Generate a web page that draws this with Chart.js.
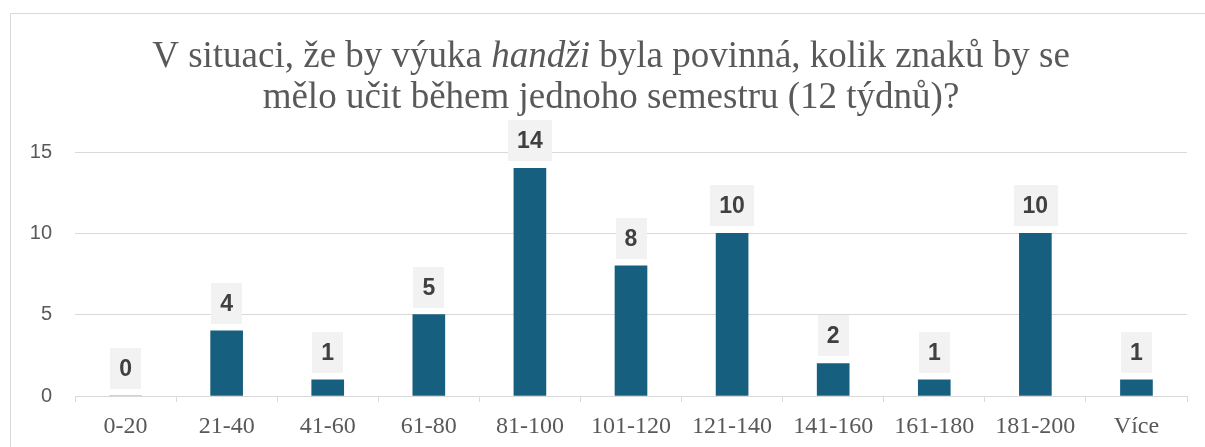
<!DOCTYPE html>
<html>
<head>
<meta charset="utf-8">
<script src="https://cdn.jsdelivr.net/npm/chart.js@4"></script>
<style>
  html, body { margin: 0; padding: 0; background: #fff; }
  #wrap { width: 1205px; height: 447px; }
</style>
</head>
<body>
<div id="wrap"><canvas id="handziChart" width="1205" height="447"></canvas></div>
<script>
const categories = ['0-20', '21-40', '41-60', '61-80', '81-100', '101-120', '121-140', '141-160', '161-180', '181-200', 'Více'];
const counts = [0, 4, 1, 5, 14, 8, 10, 2, 1, 10, 1];
const yTicks = [0, 5, 10, 15];

const colors = {
    bar: '#175f7f',
    grid: '#d9d9d9',
    text: '#595959',
    label: '#404040',
    labelBox: '#f2f2f2'
};

// title with italic word, drawn on the canvas
const titleLines = [
    [{ t: 'V situaci, že by výuka ', i: false }, { t: 'handži', i: true }, { t: ' byla povinná, kolik znaků by se', i: false }],
    [{ t: 'mělo učit během jednoho semestru (12 týdnů)?', i: false }]
];

const framePlugin = {
    id: 'frame',
    beforeDraw(chart) {
        const ctx = chart.ctx;
        ctx.save();
        ctx.strokeStyle = colors.grid;
        ctx.lineWidth = 1;
        ctx.beginPath();
        ctx.moveTo(10.5, 447);
        ctx.lineTo(10.5, 13.5);
        ctx.lineTo(1205, 13.5);
        ctx.stroke();

        const size = 37;
        const baselines = [67, 108];
        const cx = 611;
        ctx.fillStyle = colors.text;
        ctx.textBaseline = 'alphabetic';
        ctx.textAlign = 'left';
        titleLines.forEach((line, li) => {
            let total = 0;
            line.forEach(s => {
                ctx.font = (s.i ? 'italic ' : '') + size + 'px "Liberation Serif"';
                s.w = ctx.measureText(s.t).width;
                total += s.w;
            });
            let x = cx - total / 2;
            line.forEach(s => {
                ctx.font = (s.i ? 'italic ' : '') + size + 'px "Liberation Serif"';
                ctx.fillText(s.t, x, baselines[li]);
                x += s.w;
            });
        });
        ctx.restore();
    }
};

const valueLabels = {
    id: 'valueLabels',
    afterDatasetsDraw(chart) {
        const ctx = chart.ctx;
        const meta = chart.getDatasetMeta(0);
        ctx.save();
        ctx.font = 'bold 23px "Liberation Sans"';
        ctx.textAlign = 'center';
        ctx.textBaseline = 'middle';
        meta.data.forEach((bar, i) => {
            const txt = String(counts[i]);
            const w = ctx.measureText(txt).width + 18;
            const h = 41;
            const bottom = bar.y - 7;
            ctx.fillStyle = colors.labelBox;
            ctx.fillRect(Math.round(bar.x - w / 2), Math.round(bottom - h), Math.round(w), h);
            ctx.fillStyle = colors.label;
            ctx.fillText(txt, bar.x, bottom - h / 2 + 1);
        });
        ctx.restore();
    }
};

new Chart(document.getElementById('handziChart'), {
    type: 'bar',
    data: {
        labels: categories,
        datasets: [{
            data: counts,
            backgroundColor: colors.bar,
            barThickness: 32
        }]
    },
    options: {
        responsive: false,
        animation: false,
        layout: { padding: { top: 152, right: 18, left: 0, bottom: 0 } },
        plugins: {
            legend: { display: false },
            tooltip: { enabled: false }
        },
        scales: {
            x: {
                grid: {
                    offset: true,
                    drawOnChartArea: false,
                    drawTicks: true,
                    tickLength: 6,
                    color: colors.grid
                },
                border: { color: colors.grid },
                ticks: {
                    color: colors.text,
                    padding: 10,
                    font: { family: '"Liberation Serif"', size: 24 }
                },
                afterFit(scale) { scale.height = 51; }
            },
            y: {
                min: 0,
                max: 15,
                afterBuildTicks(scale) { scale.ticks = yTicks.map(v => ({ value: v })); },
                grid: { color: colors.grid, drawTicks: false },
                border: { display: false },
                ticks: {
                    color: colors.text,
                    padding: 23,
                    font: { family: '"Liberation Sans"', size: 20 }
                },
                afterFit(scale) { scale.width = 75; }
            }
        }
    },
    plugins: [framePlugin, valueLabels]
});
</script>
</body>
</html>
